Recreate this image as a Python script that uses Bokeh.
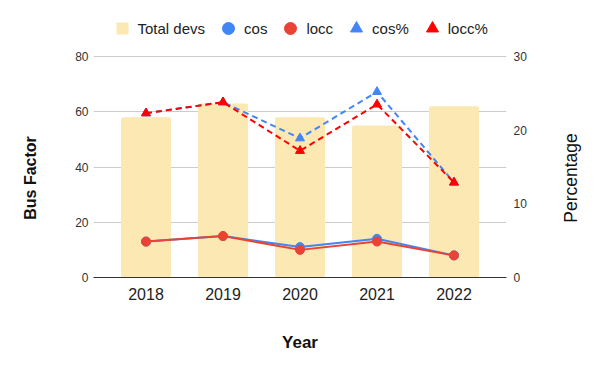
import math
from bokeh.plotting import figure
from bokeh.models import (FactorRange, Range1d, LinearAxis, FixedTicker, Legend,
                          LegendItem, ColumnDataSource, Label)
from bokeh.embed import file_html
from bokeh.resources import INLINE

# ---- data ----
years = ["2018", "2019", "2020", "2021", "2022"]
total_devs = [58, 63, 58, 55, 62]
cos = [13, 15, 11, 14, 8]
locc = [13, 15, 10, 13, 8]
cos_pct = [22.3, 23.8, 18.9, 25.2, 12.9]
locc_pct = [22.3, 23.8, 17.2, 23.5, 12.9]

left_ticks = [0, 20, 40, 60, 80]
right_ticks = [0, 10, 20, 30]
left_max = 80
right_max = 30

BAR = "#FCE8B2"
BLUE = "#4285F4"
RED = "#EA4335"
RED2 = "#FF0000"
FONT = "Liberation Sans"

# layout (pixels)
W, H = 600, 371
B_LEFT, B_RIGHT, B_BOTTOM = 93, 94, 94
LEGEND_BAND = 56          # space above the 80 gridline, kept inside the frame for the legend
frame_h = H - B_BOTTOM
frame_w = W - B_LEFT - B_RIGHT
scale = frame_h / (frame_h - LEGEND_BAND)
X_PAD = 0.182
x_start = -X_PAD
px_per_x = frame_w / (len(years) + 2 * X_PAD)
px_per_y = frame_h / (left_max * scale)

def x_at(px):
    return x_start + (px - B_LEFT) / px_per_x

def y_at(py):
    return (frame_h - py) / px_per_y

src = ColumnDataSource(dict(year=years, total=total_devs, cos=cos, locc=locc,
                            cos_pct=cos_pct, locc_pct=locc_pct))

p = figure(width=W, height=H, output_backend="svg", toolbar_location=None,
           x_range=FactorRange(*years, range_padding=X_PAD, range_padding_units="absolute"),
           y_range=Range1d(0, left_max * scale),
           min_border_left=B_LEFT, min_border_right=B_RIGHT, min_border_top=0,
           min_border_bottom=B_BOTTOM)
p.extra_y_ranges = {"pct": Range1d(0, right_max * scale)}
p.outline_line_color = None
p.xgrid.grid_line_color = None
p.ygrid.grid_line_color = "#cccccc"
p.ygrid.ticker = FixedTicker(ticks=left_ticks)

# bars
p.vbar(x="year", top="total", width=0.65, source=src, fill_color=BAR, line_color=None,
       border_radius=2)
# legend swatch for the bars (zero-size marker: only its legend entry shows)
r_bar_leg = p.scatter("year", "total", source=src, marker="square", size=0,
                      fill_color=BAR, line_color=None)

# count lines
p.line("year", "cos", source=src, line_color=BLUE, line_width=2)
r_cos = p.scatter("year", "cos", source=src, marker="circle", size=9, fill_color=BLUE, line_color=BLUE)
p.line("year", "locc", source=src, line_color=RED, line_width=2)
r_locc = p.scatter("year", "locc", source=src, marker="circle", size=9, fill_color=RED, line_color=RED)

# percentage lines
p.line("year", "cos_pct", source=src, y_range_name="pct", line_color=BLUE, line_width=2, line_dash="6 4")
r_cosp = p.scatter("year", "cos_pct", source=src, y_range_name="pct", marker="triangle", size=9,
                   fill_color=BLUE, line_color=BLUE)
p.line("year", "locc_pct", source=src, y_range_name="pct", line_color=RED2, line_width=2, line_dash="6 4")
r_loccp = p.scatter("year", "locc_pct", source=src, y_range_name="pct", marker="triangle", size=9,
                    fill_color=RED2, line_color=RED2)

# axes
xa = p.xaxis[0]
xa.axis_label = "Year"
xa.axis_line_color = "#333333"
xa.major_tick_line_color = None
xa.minor_tick_line_color = None
xa.major_tick_out = 0
xa.major_tick_in = 0
xa.major_label_text_font = FONT
xa.major_label_text_font_size = "16px"
xa.major_label_text_color = "#222222"
xa.major_label_standoff = 10
xa.axis_label_text_font = FONT
xa.axis_label_text_font_size = "17px"
xa.axis_label_text_font_style = "bold"
xa.axis_label_text_color = "#111111"
xa.axis_label_standoff = 30

ya = p.yaxis[0]
ya.ticker = FixedTicker(ticks=left_ticks)
ya.axis_line_color = None
ya.major_tick_line_color = None
ya.minor_tick_line_color = None
ya.major_tick_out = 0
ya.major_tick_in = 0
ya.major_label_text_font = FONT
ya.major_label_text_font_size = "12px"
ya.major_label_text_color = "#333333"
ya.major_label_standoff = 5

ra = LinearAxis(y_range_name="pct", ticker=FixedTicker(ticks=right_ticks))
ra.axis_line_color = None
ra.major_tick_line_color = None
ra.minor_tick_line_color = None
ra.major_tick_out = 0
ra.major_tick_in = 0
ra.major_label_text_font = FONT
ra.major_label_text_font_size = "12px"
ra.major_label_text_color = "#333333"
ra.major_label_standoff = 7
p.add_layout(ra, "right")

# vertical axis titles (both read bottom-to-top, centred on the plotted band)
title_y = y_at(177.5)
p.add_layout(Label(x=x_at(30), y=title_y, text="Bus Factor", angle=math.pi / 2,
                   text_align="center", text_baseline="middle", text_font=FONT,
                   text_font_size="16px", text_font_style="bold", text_color="#111111"), "left")
p.add_layout(Label(x=x_at(570.5), y=title_y, text="Percentage", angle=math.pi / 2,
                   text_align="center", text_baseline="middle", text_font=FONT,
                   text_font_size="17.5px", text_font_style="normal", text_color="#111111"), "right")

legend = Legend(items=[
    LegendItem(label="Total devs", renderers=[r_bar_leg]),
    LegendItem(label="cos", renderers=[r_cos]),
    LegendItem(label="locc", renderers=[r_locc]),
    LegendItem(label="cos%", renderers=[r_cosp]),
    LegendItem(label="locc%", renderers=[r_loccp]),
], orientation="horizontal", location=(13.5, frame_h - 43), glyph_width=30, glyph_height=30,
    label_standoff=1, spacing=8, padding=0, margin=0,
    label_text_font=FONT, label_text_font_size="15px", label_text_color="#222222",
    border_line_color=None, background_fill_alpha=0)
p.add_layout(legend)

open("out.html", "w").write(file_html(p, INLINE))
